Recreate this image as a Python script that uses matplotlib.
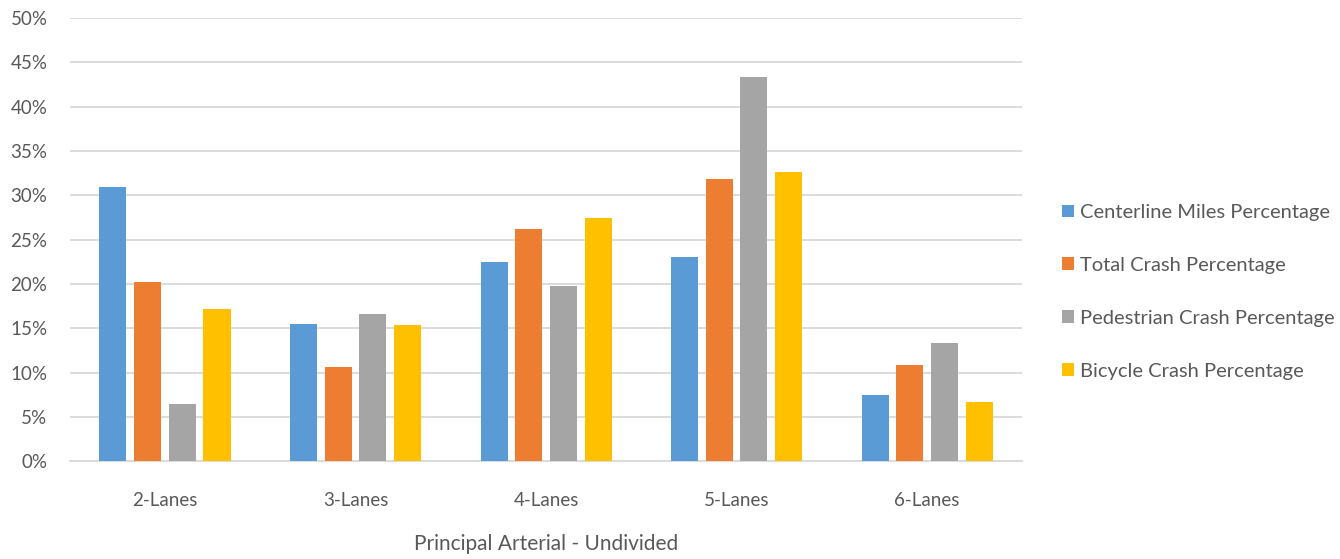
import matplotlib
matplotlib.use("Agg")
import matplotlib.pyplot as plt
import numpy as np
from matplotlib.ticker import PercentFormatter

plt.rcParams['font.family'] = ['Lato', 'DejaVu Sans']

lanes = ['2-Lanes', '3-Lanes', '4-Lanes', '5-Lanes', '6-Lanes']
series_names = ['Centerline Miles Percentage', 'Total Crash Percentage',
                'Pedestrian Crash Percentage', 'Bicycle Crash Percentage']
centerline = [30.9, 15.5, 22.5, 23.0, 7.5]
total_crash = [20.2, 10.6, 26.2, 31.8, 10.9]
ped_crash = [6.5, 16.6, 19.8, 43.3, 13.3]
bike_crash = [17.2, 15.4, 27.4, 32.6, 6.7]
colors = ['#5B9BD5', '#ED7D31', '#A5A5A5', '#FFC000']

text_color = '#595959'
grid_color = '#D9D9D9'

fig = plt.figure(figsize=(13.4, 5.59), dpi=100)
ax = fig.add_axes([0.052, 0.175, 0.711, 0.793])

x = np.arange(len(lanes))
step = 0.182
width = 0.142
for i, (vals, name) in enumerate(zip([centerline, total_crash, ped_crash, bike_crash], series_names)):
    ax.bar(x + (i - 1.5) * step, vals, width, color=colors[i], label=name, zorder=3)

ax.set_xlim(-0.5, len(lanes) - 0.5)
ax.set_ylim(0, 50)
ax.set_yticks(np.arange(0, 51, 5))
ax.yaxis.set_major_formatter(PercentFormatter(decimals=0))
ax.set_xticks(x)
ax.set_xticklabels(lanes)

ax.grid(axis='y', color=grid_color, linewidth=1.3, zorder=0)
for side in ['top', 'right', 'left']:
    ax.spines[side].set_visible(False)
ax.spines['bottom'].set_color(grid_color)
ax.spines['bottom'].set_linewidth(1.3)

ax.tick_params(axis='y', length=0, pad=16, labelsize=13.5, labelcolor=text_color)
ax.tick_params(axis='x', length=0, pad=22, labelsize=13.5, labelcolor=text_color)
ax.set_xlabel('Principal Arterial - Undivided', fontsize=15, color=text_color, labelpad=18)

fig.legend(loc='center left', bbox_to_anchor=(0.779, 0.478), frameon=False,
           fontsize=14.5, labelcolor=text_color, handlelength=0.6, handleheight=0.6,
           handletextpad=0.3, labelspacing=1.78)

fig.savefig('out.png', dpi=100)
